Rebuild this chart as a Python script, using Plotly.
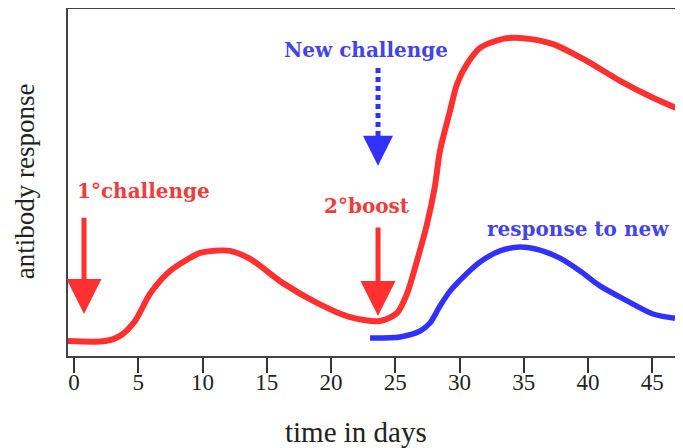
import plotly.graph_objects as go

# ---- data (days on a linear scale, response in arbitrary units 0-100) ----
red_days = [-0.47, 2.41, 3.58, 4.75, 5.91, 7.47, 9.81, 10.82, 12.14, 13.70, 16.26,
            18.91, 21.48, 23.81, 25.14, 25.91, 26.69, 27.47, 28.09, 28.48, 29.26,
            29.81, 30.58, 31.60, 33.39, 34.94, 37.28, 39.92, 42.49, 45.06, 47.39]
red_resp = [4.3, 4.3, 5.8, 10.1, 17.9, 24.5, 29.7, 30.3, 30.3, 28.0, 21.0,
            15.3, 11.2, 10.1, 12.4, 17.9, 27.4, 38.0, 49.0, 59.1, 70.6,
            78.4, 84.1, 88.8, 91.4, 91.6, 89.9, 85.0, 79.3, 74.4, 70.6]

blue_days = [23.04, 25.37, 26.93, 27.70, 28.48, 29.26, 30.43, 31.60, 33.15, 34.71,
             36.26, 37.82, 39.38, 40.93, 43.04, 45.06, 46.77]
blue_resp = [5.2, 5.5, 7.2, 9.5, 14.4, 18.7, 23.3, 27.1, 30.3, 31.4,
             30.5, 28.2, 24.5, 20.2, 15.9, 12.1, 10.9]

tick_days = [0, 5, 10, 15, 20, 25, 30, 35, 40, 45]
tick_labels = ["0", "5", "10", "15", "20", "25", "30", "35", "40", "45"]

primary_day = 0.78      # 1° challenge
boost_day = 23.66       # 2° boost / new challenge

RED = "#ff3030"
RED_TXT = "#f03c3c"
BLUE = "#3030ff"
BLUE_TXT = "#4444e6"
LABEL_FONT = "DejaVu Serif"
AXIS_FONT = "Liberation Serif"

fig = go.Figure()
fig.add_trace(go.Scatter(x=red_days, y=red_resp, mode="lines",
                         line=dict(color=RED, width=6, shape="spline", smoothing=0.8),
                         hoverinfo="skip", showlegend=False))
fig.add_trace(go.Scatter(x=blue_days, y=blue_resp, mode="lines",
                         line=dict(color=BLUE, width=5.5, shape="spline", smoothing=0.8),
                         hoverinfo="skip", showlegend=False))

annotations = []
# red solid arrows
for d, tail, tip in [(primary_day, 40.3, 12.1), (boost_day, 37.5, 11.5)]:
    annotations.append(dict(x=d, y=tip, ax=d, ay=tail, xref="x", yref="y",
                            axref="x", ayref="y", text="", showarrow=True,
                            arrowhead=2, arrowsize=1.4, arrowwidth=5,
                            arrowcolor=RED))
# blue dotted arrow head
annotations.append(dict(x=boost_day, y=54.8, ax=boost_day, ay=63.5, xref="x", yref="y",
                        axref="x", ayref="y", text="", showarrow=True,
                        arrowhead=2, arrowsize=1.2, arrowwidth=5, arrowcolor=BLUE))

texts = [
    ("1°challenge", 0.08, 47.6, RED_TXT),
    ("2°boost", 19.3, 43.2, RED_TXT),
    ("New challenge", 16.19, 88.2, BLUE_TXT),
    ("response to new", 31.98, 36.6, BLUE_TXT),
]
for t, x, y, c in texts:
    annotations.append(dict(x=x, y=y, xref="x", yref="y", text=t, showarrow=False,
                            xanchor="left", yanchor="middle",
                            font=dict(family=LABEL_FONT, size=20, color=c,
                                      weight="bold")))

# axis titles
annotations.append(dict(x=-0.070, y=0.504, xref="paper", yref="paper",
                        text="antibody response", textangle=-90, showarrow=False,
                        xanchor="center", yanchor="middle",
                        font=dict(family=AXIS_FONT, size=27, color="#222")))
annotations.append(dict(x=0.469, y=-0.218, xref="paper", yref="paper",
                        text="time in days", showarrow=False,
                        xanchor="center", yanchor="middle",
                        font=dict(family=AXIS_FONT, size=29, color="#222")))

shapes = [dict(type="line", xref="x", yref="y", x0=boost_day, x1=boost_day,
               y0=83.0, y1=62.0, line=dict(color=BLUE, width=5, dash="5px,4px"))]

# the page adds an 8px body margin, so the figure is 8px smaller than the window
fig.update_layout(
    width=675, height=440,
    margin=dict(l=60, r=1, t=1, b=92),
    paper_bgcolor="white", plot_bgcolor="white",
    annotations=annotations, shapes=shapes,
    xaxis=dict(range=[-0.467, 47.315], tickmode="array", tickvals=tick_days,
               ticktext=tick_labels, ticks="outside", ticklen=15, tickwidth=2,
               tickcolor="#333", showline=True, linecolor="#444", linewidth=2,
               mirror=True, showgrid=False, zeroline=False, automargin=False,
               ticklabelstandoff=-11,
               tickfont=dict(family=AXIS_FONT, size=23, color="#222")),
    yaxis=dict(range=[0, 100], showticklabels=False, ticks="", showline=True,
               linecolor="#444", linewidth=2, mirror=True, showgrid=False,
               zeroline=False, automargin=False),
)

fig.write_html("out.html")
